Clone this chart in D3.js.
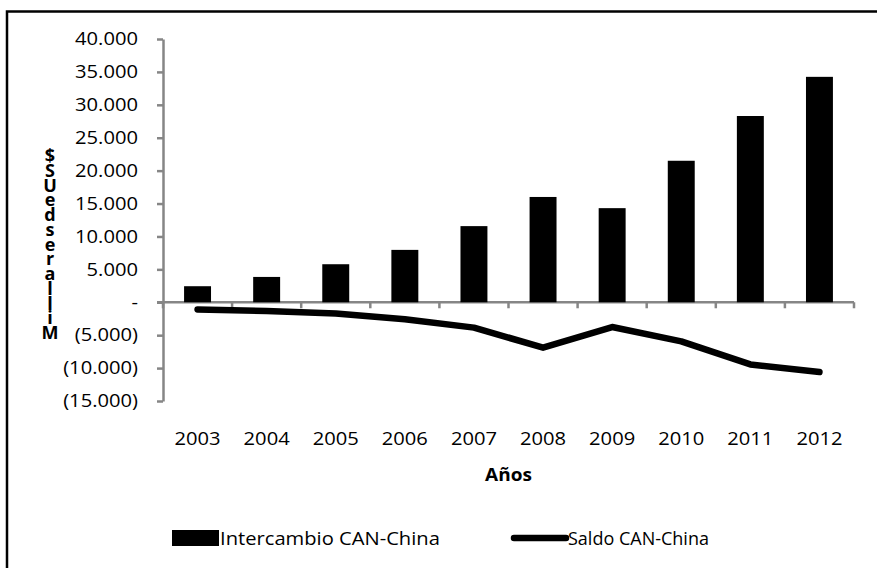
<!DOCTYPE html>
<html>
<head>
<meta charset="utf-8">
<script src="https://cdn.jsdelivr.net/npm/d3@7"></script>
<style>
  body { margin: 0; background: #fff; }
  text { font-family: "Open Sans", "Liberation Sans", sans-serif; fill: #000; }
</style>
</head>
<body>
<div id="chart"></div>
<script>
// data
var years = ["2003", "2004", "2005", "2006", "2007", "2008", "2009", "2010", "2011", "2012"];
var intercambio = [2440, 3850, 5780, 7960, 11570, 16000, 14300, 21500, 28300, 34250];
var saldo = [-1100, -1320, -1720, -2590, -3850, -6900, -3760, -5940, -9440, -10600];
var yTicks = [40000, 35000, 30000, 25000, 20000, 15000, 10000, 5000, 0, -5000, -10000, -15000];
var yTitle = "Millares de US$";
var xTitle = "Años";
var legendNames = ["Intercambio CAN-China", "Saldo CAN-China"];

var svgWidth = 877;
var svgHeight = 568;

var svg = d3.select("#chart")
  .append("svg")
  .attr("width", svgWidth)
  .attr("height", svgHeight);

// frame (only top and left edges show in the picture)
svg.append("path")
  .attr("d", "M7,570 L7,11.5 L880,11.5")
  .attr("fill", "none")
  .attr("stroke", "#000")
  .attr("stroke-width", 2.5);

var plotLeft = 163, plotRight = 854;

var x = d3.scaleBand()
  .domain(years)
  .range([plotLeft, plotRight])
  .padding(0);

var y = d3.scaleLinear()
  .domain([-15000, 40000])
  .range([401, 39]);

// number format like "35.000" and "(5.000)"
function fmt(v) {
  if (v === 0) return "-";
  var s = d3.format(",")(Math.abs(v)).replace(/,/g, ".");
  return v < 0 ? "(" + s + ")" : s;
}

var axisColor = "#868686";
// the reference text looks horizontally stretched
var stretch = 1.12;

// y axis
var yAxis = svg.append("g")
  .attr("transform", `translate(${plotLeft},0)`)
  .call(d3.axisLeft(y).tickValues(yTicks).tickFormat(fmt).tickSize(6).tickPadding(0).tickSizeOuter(0));
yAxis.select(".domain").attr("stroke", axisColor).attr("stroke-width", 2.5);
yAxis.selectAll(".tick line").attr("stroke", axisColor).attr("stroke-width", 2.5);
yAxis.selectAll(".tick text")
  .attr("x", null)
  .attr("font-size", 18)
  .attr("font-family", "Open Sans")
  .attr("fill", "#000")
  .attr("transform", `translate(-25,0) scale(${stretch},1)`);

// x axis along zero, ticks at category boundaries
var xAxisG = svg.append("g")
  .attr("transform", `translate(0,${y(0)})`);
xAxisG.append("line")
  .attr("x1", plotLeft - 6).attr("x2", plotRight)
  .attr("stroke", axisColor).attr("stroke-width", 2.5);
xAxisG.selectAll(".xtick")
  .data(years.concat(["end"]))
  .enter()
  .append("line")
  .attr("x1", (d, i) => i < years.length ? x(d) : plotRight)
  .attr("x2", (d, i) => i < years.length ? x(d) : plotRight)
  .attr("y1", 0).attr("y2", 6)
  .attr("stroke", axisColor).attr("stroke-width", 2.5);

// year labels below the plot
svg.append("g").selectAll("text")
  .data(years)
  .enter()
  .append("text")
  .attr("transform", d => `translate(${x(d) + x.bandwidth() / 2},445) scale(${stretch},1)`)
  .attr("text-anchor", "middle")
  .attr("font-size", 18)
  .text(d => d);

// bars
var barW = x.bandwidth() * 0.39;
svg.append("g").selectAll("rect")
  .data(intercambio)
  .enter()
  .append("rect")
  .attr("x", (d, i) => x(years[i]) + x.bandwidth() / 2 - barW / 2)
  .attr("y", d => y(d))
  .attr("width", barW)
  .attr("height", d => y(0) - y(d))
  .attr("fill", "#000");

// saldo line
var line = d3.line()
  .x((d, i) => x(years[i]) + x.bandwidth() / 2)
  .y(d => y(d));

svg.append("path")
  .datum(saldo)
  .attr("d", line)
  .attr("fill", "none")
  .attr("stroke", "#000")
  .attr("stroke-width", 6.5)
  .attr("stroke-linecap", "round")
  .attr("stroke-linejoin", "round");

// y title: upright letters stacked bottom-to-top, tightly packed (spaces dropped)
var chars = yTitle.replace(/ /g, "").split("");
var charY = d3.scaleLinear().domain([0, chars.length - 1]).range([339, 162]);
svg.append("g").selectAll("text")
  .data(chars)
  .enter()
  .append("text")
  .attr("x", 50)
  .attr("y", (d, i) => charY(i))
  .attr("text-anchor", "middle")
  .attr("font-size", 18)
  .attr("font-weight", "bold")
  .text(d => d);

// x title
svg.append("text")
  .attr("transform", `translate(${(plotLeft + plotRight) / 2},481) scale(${stretch},1)`)
  .attr("text-anchor", "middle")
  .attr("font-size", 17)
  .attr("font-weight", "bold")
  .text(xTitle);

// legend
var legend = svg.append("g");
legend.append("rect")
  .attr("x", 172).attr("y", 530)
  .attr("width", 47).attr("height", 16)
  .attr("fill", "#000");
legend.append("text")
  .attr("transform", `translate(220,545) scale(${stretch},1)`)
  .attr("font-size", 18)
  .text(legendNames[0]);
legend.append("line")
  .attr("x1", 514).attr("x2", 566)
  .attr("y1", 538).attr("y2", 538)
  .attr("stroke", "#000")
  .attr("stroke-width", 6.5)
  .attr("stroke-linecap", "round");
legend.append("text")
  .attr("transform", `translate(568,545) scale(1,1)`)
  .attr("font-size", 18)
  .text(legendNames[1]);
</script>
</body>
</html>
